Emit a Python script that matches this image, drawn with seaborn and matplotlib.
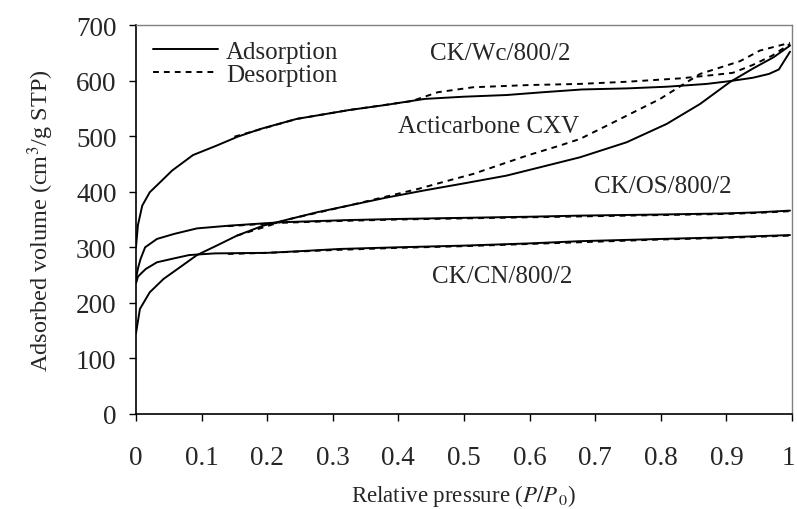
import matplotlib
matplotlib.use("Agg")
import matplotlib.pyplot as plt
import matplotlib.transforms as mtransforms
from matplotlib.lines import Line2D
import numpy as np
import pandas as pd
import seaborn as sns

# N2 isotherms at 77 K: relative pressure vs adsorbed volume (cm3/g STP)
wc_ads_p = [0.0, 0.003, 0.0096, 0.021, 0.042, 0.055, 0.087, 0.123, 0.155, 0.19, 0.245, 0.29,
            0.325, 0.38, 0.44, 0.5, 0.565, 0.62, 0.68, 0.75, 0.81, 0.87, 0.905, 0.94, 0.965,
            0.98, 0.997]
wc_ads_v = [300, 340, 375, 399, 423, 438, 466, 483, 499, 513, 531, 540,
            547, 556, 567, 571, 574, 579, 584, 586, 589, 594, 599, 605, 612,
            620, 652]
wc_des_p = [0.15, 0.245, 0.325, 0.42, 0.46, 0.514, 0.6, 0.677, 0.75, 0.83, 0.88, 0.91,
            0.94, 0.97, 0.997]
wc_des_v = [499, 531, 547, 563, 579, 588, 592, 594, 598, 604, 610, 614,
            628, 645, 666]

cxv_ads_p = [0.0, 0.006, 0.021, 0.042, 0.067, 0.093, 0.123, 0.154, 0.194, 0.235, 0.276,
             0.324, 0.38, 0.438, 0.5, 0.565, 0.616, 0.677, 0.748, 0.809, 0.86, 0.905,
             0.941, 0.972, 0.997]
cxv_ads_v = [145, 189, 219, 243, 264, 286, 303, 321, 339, 351, 363,
             375, 389, 402, 415, 429, 444, 462, 489, 522, 558, 597,
             622, 642, 663]
cxv_des_p = [0.154, 0.235, 0.324, 0.43, 0.47, 0.514, 0.596, 0.646, 0.677, 0.723, 0.799,
             0.83, 0.86, 0.921, 0.951, 0.997]
cxv_des_v = [321, 351, 375, 405, 418, 432, 465, 483, 495, 522, 567,
             590, 612, 635, 654, 668]

os_ads_p = [0.0, 0.003, 0.007, 0.014, 0.032, 0.058, 0.093, 0.143, 0.22, 0.324, 0.4, 0.5,
            0.6, 0.677, 0.8, 0.9, 0.95, 0.997]
os_ads_v = [243, 262, 279, 300, 315, 324, 334, 339, 345, 349, 351, 353,
            355, 357, 359, 361, 363, 366]
os_des_p = [0.14, 0.22, 0.3, 0.4, 0.5, 0.6, 0.7, 0.8, 0.9, 0.95, 0.997]
os_des_v = [338, 344, 347, 350, 352, 354, 356, 358, 360, 362, 365]

cn_ads_p = [0.0, 0.003, 0.007, 0.015, 0.032, 0.058, 0.081, 0.12, 0.2, 0.25, 0.311, 0.4,
            0.5, 0.6, 0.677, 0.8, 0.9, 0.997]
cn_ads_v = [235, 247, 252, 261, 273, 280, 286, 289, 290, 293, 297, 300,
            303, 307, 311, 315, 318, 322]
cn_des_p = [0.14, 0.2, 0.3, 0.4, 0.5, 0.6, 0.7, 0.8, 0.9, 0.95, 0.997]
cn_des_v = [288, 290, 295, 299, 302, 306, 310, 314, 317, 319, 321]

sample_names = ["CK/Wc/800/2", "Acticarbone CXV", "CK/OS/800/2", "CK/CN/800/2"]
branch_names = ["Adsorption", "Desorption"]

series = [
    (sample_names[0], branch_names[0], wc_ads_p, wc_ads_v),
    (sample_names[0], branch_names[1], wc_des_p, wc_des_v),
    (sample_names[1], branch_names[0], cxv_ads_p, cxv_ads_v),
    (sample_names[1], branch_names[1], cxv_des_p, cxv_des_v),
    (sample_names[2], branch_names[0], os_ads_p, os_ads_v),
    (sample_names[2], branch_names[1], os_des_p, os_des_v),
    (sample_names[3], branch_names[0], cn_ads_p, cn_ads_v),
    (sample_names[3], branch_names[1], cn_des_p, cn_des_v),
]
frames = []
for name, branch, p, v in series:
    frames.append(pd.DataFrame({"p": p, "v": v, "sample": name, "branch": branch,
                                "curve": f"{name} {branch}"}))
df = pd.concat(frames, ignore_index=True)

# sample label positions (x in P/P0, y in cm3/g)
label_x = [0.556, 0.537, 0.803, 0.558]
label_y = [649, 518, 410, 248]

sns.set_style("white")
plt.rcParams["font.family"] = ["Liberation Serif", "DejaVu Serif"]
plt.rcParams["mathtext.fontset"] = "stix"

fig = plt.figure(figsize=(7.97, 5.10), dpi=100)
ax = fig.add_axes([0.1706, 0.1863, 0.9937 - 0.1706, 0.949 - 0.1863])

dash_map = {"Adsorption": "", "Desorption": (3.0, 2.6)}
sns.lineplot(data=df, x="p", y="v", units="curve", style="branch", dashes=dash_map,
             estimator=None, sort=False, color="black", linewidth=1.4, legend=False, ax=ax)

for name, lx, ly in zip(sample_names, label_x, label_y):
    ax.text(lx, ly, name, ha="center", va="center", fontsize=18)

ax.set_xlim(0, 1)
ax.set_ylim(0, 700)
ax.set_xticks(np.arange(0, 1.01, 0.1))
ax.set_xticklabels(["0", "0.1", "0.2", "0.3", "0.4", "0.5", "0.6", "0.7", "0.8", "0.9", "1"])
ax.set_yticks(np.arange(0, 701, 100))
ax.tick_params(axis="both", which="major", direction="out", length=5, width=1,
               color="black", labelsize=19.5, left=True, bottom=True)
ax.tick_params(axis="x", pad=17)
ax.tick_params(axis="y", pad=9)

# nudge the last x tick label so it stays inside the figure edge
last_label = ax.get_xticklabels()[-1]
last_label.set_transform(last_label.get_transform()
                         + mtransforms.ScaledTranslation(-4 / 100, 0, fig.dpi_scale_trans))

for side in ["left", "bottom"]:
    ax.spines[side].set_color("black")
    ax.spines[side].set_linewidth(1.2)
for side in ["top", "right"]:
    ax.spines[side].set_visible(True)
    ax.spines[side].set_color("#808080")
    ax.spines[side].set_linewidth(1.0)

ax.set_xlabel(r"Relative pressure ($P/P_{\,0}$)", fontsize=16.5, labelpad=9)
ax.set_ylabel(r"Adsorbed volume (cm$^3$/g STP)", fontsize=17.5, labelpad=14)

handles = [Line2D([], [], color="black", lw=1.4, linestyle="-"),
           Line2D([], [], color="black", lw=1.4, dashes=(3.0, 2.6))]
ax.legend(handles, branch_names, loc="upper left", bbox_to_anchor=(0.003, 1.0),
          frameon=False, fontsize=18, handlelength=2.6, handletextpad=0.3,
          labelspacing=0.0, borderaxespad=0.22)

fig.savefig("out.png", dpi=100)
